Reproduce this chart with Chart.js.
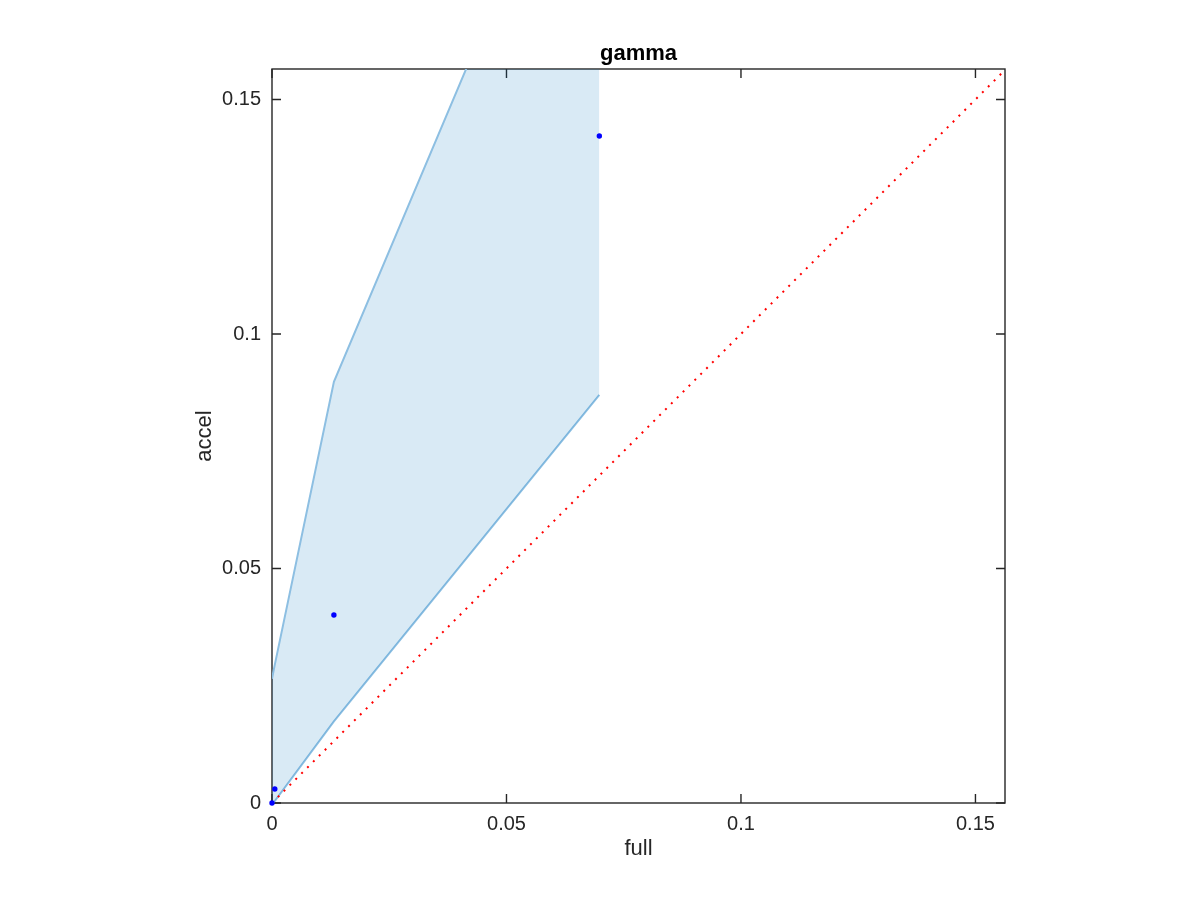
<!DOCTYPE html>
<html>
<head>
<meta charset="utf-8">
<script src="https://cdn.jsdelivr.net/npm/chart.js@4/dist/chart.umd.min.js"></script>
<style>
html,body{margin:0;padding:0;background:#fff;}
#c{display:block;}
</style>
</head>
<body>
<canvas id="c" width="1200" height="900"></canvas>
<script>
// ---- data ----
const fullVals  = [0, 0.0006, 0.0132, 0.0698];
const accelVals = [0, 0.0030, 0.0401, 0.1422];
const upperBand = [0.0265, 0.0295, 0.0898, 0.2237];
const lowerBand = [0, 0.0004, 0.0174, 0.0870];
const diagX = [0, 0.16];
const diagY = [0, 0.16];
const tickValues = [0, 0.05, 0.1, 0.15];
const tickLabels = ['0', '0.05', '0.1', '0.15'];
const axisMax = {x: 0.1563, y: 0.1565};
const titleText = 'gamma';
const xTitle = 'full';
const yTitle = 'accel';

const pts = (xs, ys) => xs.map((x, i) => ({x: x, y: ys[i]}));
const FONT = '"Liberation Sans", Helvetica, Arial, sans-serif';
const AX = '#262626';

const boxPlugin = {
  id: 'box',
  beforeDatasetsDraw(chart) {
    const ctx = chart.ctx, a = chart.chartArea;
    const sx = chart.scales.x, sy = chart.scales.y;
    ctx.save();
    ctx.strokeStyle = AX;
    ctx.lineWidth = 1.4;
    ctx.strokeRect(a.left, a.top, a.right - a.left, a.bottom - a.top);
    const L = 9;
    ctx.beginPath();
    tickValues.forEach(v => {
      const px = sx.getPixelForValue(v);
      ctx.moveTo(px, a.bottom); ctx.lineTo(px, a.bottom - L);
      ctx.moveTo(px, a.top); ctx.lineTo(px, a.top + L);
      const py = sy.getPixelForValue(v);
      ctx.moveTo(a.left, py); ctx.lineTo(a.left + L, py);
      ctx.moveTo(a.right, py); ctx.lineTo(a.right - L, py);
    });
    ctx.stroke();
    ctx.restore();
  }
};

const setTicks = s => { s.ticks = tickValues.map(v => ({value: v})); };

new Chart(document.getElementById('c'), {
  type: 'line',
  data: {
    datasets: [
      {
        label: 'points', type: 'scatter', data: pts(fullVals, accelVals),
        showLine: false, pointRadius: 2.7, pointBackgroundColor: '#0000ff',
        pointBorderWidth: 0, borderColor: '#0000ff', order: 0, clip: false
      },
      {
        label: 'diag', data: pts(diagX, diagY), borderColor: '#ff0000',
        borderWidth: 2, borderDash: [2, 6.3], pointRadius: 0, fill: false, order: 1
      },
      {
        label: 'lower', data: pts(fullVals, lowerBand), borderColor: '#8dbfe2',
        borderWidth: 2, pointRadius: 0, fill: false, order: 3
      },
      {
        label: 'upper', data: pts(fullVals, upperBand), borderColor: '#8dbfe2',
        borderWidth: 2, pointRadius: 0, fill: '-1',
        backgroundColor: 'rgba(0,114,189,0.15)', order: 2
      }
    ]
  },
  options: {
    responsive: false,
    animation: false,
    events: [],
    layout: {padding: {left: 0, right: 195, top: 0, bottom: 0}},
    plugins: {
      legend: {display: false},
      tooltip: {enabled: false},
      title: {
        display: true, text: titleText, color: '#000', fullSize: false,
        font: {family: FONT, size: 22, weight: 'bold'},
        padding: {top: 40.5, bottom: 2.1}
      }
    },
    scales: {
      x: {
        type: 'linear', min: 0, max: axisMax.x,
        grid: {display: false, drawTicks: false},
        border: {display: false},
        afterBuildTicks: setTicks,
        afterFit: s => { s.height = 97; },
        ticks: {
          color: AX, padding: 9, font: {family: FONT, size: 20},
          callback: (v) => tickLabels[tickValues.indexOf(v)]
        },
        title: {display: true, text: xTitle, color: AX, font: {family: FONT, size: 22}, padding: {bottom: 38}}
      },
      y: {
        type: 'linear', min: 0, max: axisMax.y,
        grid: {display: false, drawTicks: false},
        border: {display: false},
        afterBuildTicks: setTicks,
        afterFit: s => { s.width = 272; },
        ticks: {
          color: AX, padding: 11, font: {family: FONT, size: 20},
          callback: (v) => tickLabels[tickValues.indexOf(v)]
        },
        title: {display: true, text: yTitle, color: AX, font: {family: FONT, size: 22}, padding: {top: 192}}
      }
    }
  },
  plugins: [boxPlugin]
});
</script>
</body>
</html>
